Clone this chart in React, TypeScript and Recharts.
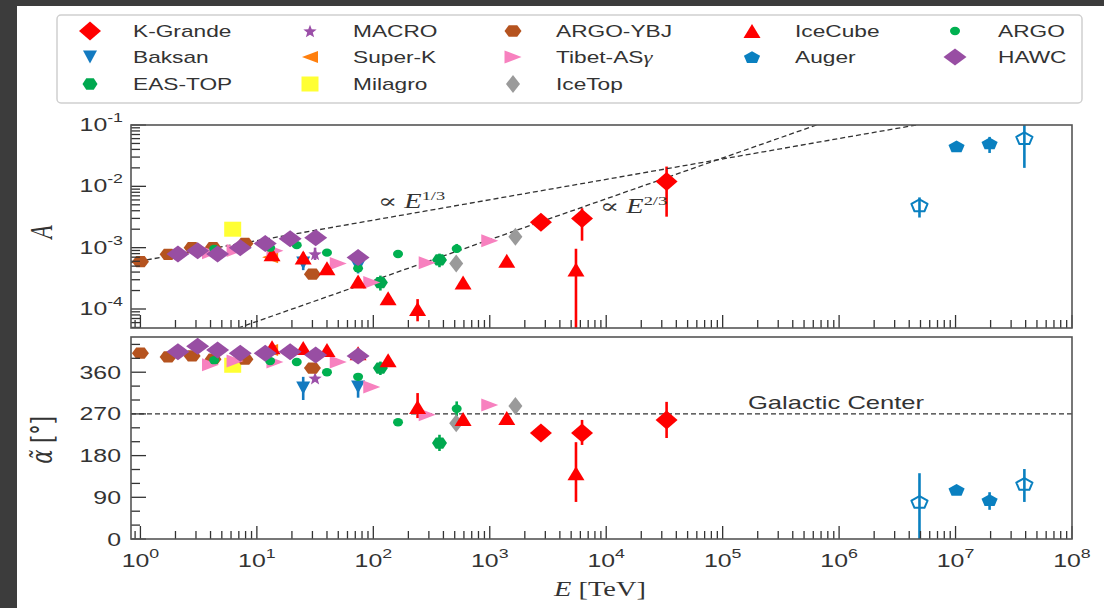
import React from "react";
import { ScatterChart, Scatter, XAxis, YAxis, ErrorBar, ReferenceLine } from "recharts";

type Bounds = [number, number] | null;

const W = 1104;
const H = 608;
const PLOT_L = 131;
const PLOT_R = 1072;
const TOP_T = 125;
const TOP_B = 328;
const BOT_T = 337;
const BOT_B = 539;

const X_MIN = 0.83;
const X_MAX = 1e8;
const A_MIN = 4.9e-5;
const A_MAX = 0.1;
const PHI_MIN = 0;
const PHI_MAX = 436;

const SX = 1.42; // the reference is stretched horizontally
const INK = "#333";
const SANS = "'Liberation Sans', Arial, sans-serif";
const SERIF = "'Liberation Serif', 'DejaVu Serif', serif";

// ---- data: energy [TeV], amplitude A, phase alpha [deg], error bounds ----
const kgE = [2750, 6200, 33000];
const kgA = [2.6e-3, 3.0e-3, 1.2e-2];
const kgAErr: Bounds[] = [[2.2e-3, 3.0e-3], [1.3e-3, 4.4e-3], [3.2e-3, 2.1e-2]];
const kgPhi = [229, 229, 257];
const kgPhiErr: Bounds[] = [null, [203, 257], [218, 296]];

const baksanE = [25, 74];
const baksanA = [5.6e-4, 4.9e-4];
const baksanAErr: Bounds[] = [[4.3e-4, 7.0e-4], [3.8e-4, 6.3e-4]];
const baksanPhi = [326, 328];
const baksanPhiErr: Bounds[] = [[300, 350], [305, 352]];

const easE = [115, 370];
const easA = [2.7e-4, 6.3e-4];
const easAErr: Bounds[] = [[2.0e-4, 3.5e-4], [4.8e-4, 8.0e-4]];
const easPhi = [369, 207];
const easPhiErr: Bounds[] = [[354, 383], [190, 225]];

const macroE = [31.6];
const macroA = [7.9e-4];
const macroAErr: Bounds[] = [[6.3e-4, 1.0e-3]];
const macroPhi = [347];

const superkE = [13];
const superkA = [7.0e-4];
const superkPhi = [408];

const milagroE = [6.2];
const milagroA = [2.0e-3];
const milagroAErr: Bounds[] = [[1.6e-3, 2.5e-3]];
const milagroPhi = [375];

const argoYbjE = [1.0, 1.73, 2.78, 4.2, 7.9, 30];
const argoYbjA = [5.9e-4, 7.8e-4, 1.0e-3, 1.0e-3, 1.17e-3, 3.7e-4];
const argoYbjPhi = [401, 393, 395, 388, 388, 369];

const tibetE = [4.0, 6.5, 14.3, 50, 97, 290, 1000];
const tibetA = [8.3e-4, 9.0e-4, 8.9e-4, 5.5e-4, 2.7e-4, 5.7e-4, 1.3e-3];
const tibetPhi = [376, 384, 382, 382, 328, 268, 289];

const icetopE = [515, 1660];
const icetopA = [5.5e-4, 1.5e-3];
const icetopPhi = [250, 287];

const icecubeE = [13.5, 25, 40, 74, 134, 240, 590, 1400, 5500];
const icecubeA = [7.8e-4, 6.9e-4, 4.6e-4, 2.8e-4, 1.5e-4, 1.0e-4, 2.7e-4, 6.1e-4, 4.4e-4];
const icecubeAErr: Bounds[] = [null, [5.6e-4, 8.4e-4], null, null, null, [6.3e-5, 1.45e-4], null, null, [4.9e-5, 9.6e-4]];
const icecubePhi = [414, 412, 408, 401, 386, 285, 259, 261, 142];
const icecubePhiErr: Bounds[] = [null, null, null, null, null, [261, 315], null, null, [80, 209]];

const augerE = [4.9e6, 1.02e7, 1.96e7, 3.9e7];
const augerA = [4.9e-3, 4.5e-2, 5.0e-2, 6.1e-2];
const augerAErr: Bounds[] = [[3.1e-3, 6.6e-3], [4.2e-2, 4.8e-2], [3.5e-2, 6.4e-2], [2.0e-2, 0.1]];
const augerPhi = [80, 106, 84, 119];
const augerPhiErr: Bounds[] = [[0, 142], [100, 112], [63, 101], [80, 151]];
const augerOpen = [true, false, false, true];

const argoE = [4.3, 13, 22, 40, 74, 163, 520];
const argoA = [9.5e-4, 1.0e-3, 1.1e-3, 8.3e-4, 4.6e-4, 7.9e-4, 9.6e-4];
const argoAErr: Bounds[] = [null, null, null, null, null, null, [8.3e-4, 1.15e-3]];
const argoPhi = [386, 384, 382, 360, 350, 252, 281];
const argoPhiErr: Bounds[] = [null, null, null, null, null, null, [265, 297]];

const hawcE = [2.1, 3.1, 4.6, 7.2, 11.8, 19.3, 32, 74];
const hawcA = [7.9e-4, 8.9e-4, 7.9e-4, 1.0e-3, 1.17e-3, 1.4e-3, 1.45e-3, 6.9e-4];
const hawcPhi = [404, 416, 408, 401, 401, 404, 397, 395];

// dashed power-law guides (end points)
const slope13E = [0.83, 4.6e6];
const slope13A = [5.7e-4, 0.1];
const slope23E = [6.9, 6.4e5];
const slope23A = [4.9e-5, 0.1];

const galacticCenter = 270;

const phiMajor = [0, 90, 180, 270, 360];
const phiTicks = [0, 30, 60, 90, 120, 150, 180, 210, 240, 270, 300, 330, 360, 390, 420];

// ---- helpers ----
type Row = { E: number; A: number; phi: number; aErr: [number, number]; pErr: [number, number]; open: boolean };

function errOf(v: number, b: Bounds | undefined): [number, number] {
  if (!b) return [0, 0];
  return [v - b[0], b[1] - v];
}

function rows(E: number[], A: number[], phi: number[], aB?: Bounds[], pB?: Bounds[], open?: boolean[]): Row[] {
  return E.map((e, i) => ({
    E: e,
    A: A[i],
    phi: phi[i],
    aErr: errOf(A[i], aB?.[i]),
    pErr: errOf(phi[i], pB?.[i]),
    open: open ? open[i] : false,
  }));
}

function logTicks(lo: number, hi: number): number[] {
  const out: number[] = [];
  for (let d = Math.floor(Math.log10(lo)); d <= Math.ceil(Math.log10(hi)); d++) {
    for (let m = 1; m <= 9; m++) {
      const v = Number((m * Math.pow(10, d)).toPrecision(6));
      if (v >= lo && v <= hi) out.push(v);
    }
  }
  return out;
}

const isDecade = (v: number) => Math.abs(Math.log10(v) - Math.round(Math.log10(v))) < 1e-6;

type Kind = "diamond" | "triUp" | "triDown" | "triLeft" | "triRight" | "hexagon" | "star" | "square" | "circle" | "pentagon";

type Series = { name: string; kind: Kind; color: string; rx: number; ry: number; data: Row[]; errA: boolean; errP: boolean };

const series: Series[] = [
  { name: "K-Grande", kind: "diamond", color: "#ff0000", rx: 11, ry: 9.5, data: rows(kgE, kgA, kgPhi, kgAErr, kgPhiErr), errA: true, errP: true },
  { name: "Baksan", kind: "triDown", color: "#137ac0", rx: 7, ry: 6.5, data: rows(baksanE, baksanA, baksanPhi, baksanAErr, baksanPhiErr), errA: true, errP: true },
  { name: "EAS-TOP", kind: "hexagon", color: "#00a84f", rx: 7.5, ry: 6.5, data: rows(easE, easA, easPhi, easAErr, easPhiErr), errA: true, errP: true },
  { name: "MACRO", kind: "star", color: "#9b4fa8", rx: 7, ry: 7, data: rows(macroE, macroA, macroPhi, macroAErr), errA: true, errP: false },
  { name: "Super-K", kind: "triLeft", color: "#ff7f0e", rx: 8, ry: 6, data: rows(superkE, superkA, superkPhi), errA: false, errP: false },
  { name: "Milagro", kind: "square", color: "#ffff33", rx: 8.5, ry: 7.5, data: rows(milagroE, milagroA, milagroPhi, milagroAErr), errA: true, errP: false },
  { name: "ARGO-YBJ", kind: "hexagon", color: "#b5531f", rx: 8.5, ry: 6.5, data: rows(argoYbjE, argoYbjA, argoYbjPhi), errA: false, errP: false },
  { name: "Tibet-AS\u03b3", kind: "triRight", color: "#f781bf", rx: 8.5, ry: 6.5, data: rows(tibetE, tibetA, tibetPhi), errA: false, errP: false },
  { name: "IceTop", kind: "diamond", color: "#9a9a9a", rx: 7, ry: 9, data: rows(icetopE, icetopA, icetopPhi), errA: false, errP: false },
  { name: "IceCube", kind: "triUp", color: "#ff0000", rx: 8.5, ry: 7, data: rows(icecubeE, icecubeA, icecubePhi, icecubeAErr, icecubePhiErr), errA: true, errP: true },
  { name: "Auger", kind: "pentagon", color: "#0a80c0", rx: 8.5, ry: 6.5, data: rows(augerE, augerA, augerPhi, augerAErr, augerPhiErr, augerOpen), errA: true, errP: true },
  { name: "ARGO", kind: "circle", color: "#00b050", rx: 5, ry: 4.2, data: rows(argoE, argoA, argoPhi, argoAErr, argoPhiErr), errA: true, errP: true },
  { name: "HAWC", kind: "diamond", color: "#984ea3", rx: 11.5, ry: 8.5, data: rows(hawcE, hawcA, hawcPhi), errA: false, errP: false },
];

const legendCols = [
  ["K-Grande", "Baksan", "EAS-TOP"],
  ["MACRO", "Super-K", "Milagro"],
  ["ARGO-YBJ", "Tibet-AS\u03b3", "IceTop"],
  ["IceCube", "Auger"],
  ["ARGO", "HAWC"],
];

function poly(pts: [number, number][]) {
  return pts.map((p) => `${p[0].toFixed(2)},${p[1].toFixed(2)}`).join(" ");
}

function Marker({ kind, cx, cy, rx, ry, color, open }: { kind: Kind; cx: number; cy: number; rx: number; ry: number; color: string; open?: boolean }) {
  const fill = open ? "none" : color;
  const stroke = open ? color : "none";
  const sw = open ? 2 : 0;
  if (kind === "circle") return <ellipse cx={cx} cy={cy} rx={rx} ry={ry} fill={fill} stroke={stroke} strokeWidth={sw} />;
  let pts: [number, number][] = [];
  if (kind === "diamond") pts = [[cx, cy - ry], [cx + rx, cy], [cx, cy + ry], [cx - rx, cy]];
  else if (kind === "square") pts = [[cx - rx, cy - ry], [cx + rx, cy - ry], [cx + rx, cy + ry], [cx - rx, cy + ry]];
  else if (kind === "triUp") pts = [[cx, cy - ry], [cx + rx, cy + ry], [cx - rx, cy + ry]];
  else if (kind === "triDown") pts = [[cx, cy + ry], [cx + rx, cy - ry], [cx - rx, cy - ry]];
  else if (kind === "triLeft") pts = [[cx - rx, cy], [cx + rx, cy - ry], [cx + rx, cy + ry]];
  else if (kind === "triRight") pts = [[cx + rx, cy], [cx - rx, cy - ry], [cx - rx, cy + ry]];
  else if (kind === "hexagon") {
    for (let k = 0; k < 6; k++) {
      const a = (Math.PI / 3) * k;
      pts.push([cx + rx * Math.cos(a), cy - ry * Math.sin(a)]);
    }
  } else if (kind === "pentagon") {
    for (let k = 0; k < 5; k++) {
      const a = Math.PI / 2 + ((2 * Math.PI) / 5) * k;
      pts.push([cx + rx * Math.cos(a), cy - ry * Math.sin(a) + ry * 0.1]);
    }
  } else if (kind === "star") {
    for (let k = 0; k < 10; k++) {
      const a = Math.PI / 2 + (Math.PI / 5) * k;
      const f = k % 2 === 0 ? 1 : 0.42;
      pts.push([cx + rx * f * Math.cos(a), cy - ry * f * Math.sin(a) + ry * 0.1]);
    }
  }
  return <polygon points={poly(pts)} fill={fill} stroke={stroke} strokeWidth={sw} strokeLinejoin="round" />;
}

// stretched text helper
function T({ x, y, size, children, anchor = "start", family = SANS, fill = INK }: { x: number; y: number; size: number; children: React.ReactNode; anchor?: "start" | "middle" | "end"; family?: string; fill?: string }) {
  return (
    <g transform={`translate(${x},${y}) scale(${SX},1)`}>
      <text x={0} y={0} fontSize={size} fontFamily={family} fill={fill} textAnchor={anchor}>
        {children}
      </text>
    </g>
  );
}

const xTicks = logTicks(0.9, X_MAX);
const aTicks = logTicks(A_MIN, A_MAX);

function xTick(p: any, axisY: number, labels: boolean) {
  const v = p.payload.value as number;
  const major = isDecade(v);
  const len = major ? 13 : 8;
  return (
    <g>
      <line x1={p.x} x2={p.x} y1={axisY} y2={axisY - len} stroke={INK} strokeWidth={1.3} />
      {labels && major && (
        <T x={p.x} y={axisY + 28} size={17.5} anchor="middle">
          10<tspan dy={-9} fontSize={12.5}>{Math.round(Math.log10(v))}</tspan>
        </T>
      )}
    </g>
  );
}

function aTick(p: any) {
  const v = p.payload.value as number;
  const major = isDecade(v);
  const len = major ? 15 : 9;
  return (
    <g>
      <line x1={PLOT_L} x2={PLOT_L + len} y1={p.y} y2={p.y} stroke={INK} strokeWidth={1.3} />
      {major && (
        <T x={PLOT_L - 8} y={p.y + 6} size={17.5} anchor="end">
          10<tspan dy={-9} fontSize={12.5}>{Math.round(Math.log10(v))}</tspan>
        </T>
      )}
    </g>
  );
}

function phiTick(p: any) {
  const v = p.payload.value as number;
  const major = phiMajor.includes(v);
  const len = major ? 15 : 9;
  return (
    <g>
      <line x1={PLOT_L} x2={PLOT_L + len} y1={p.y} y2={p.y} stroke={INK} strokeWidth={1.3} />
      {major && (
        <T x={PLOT_L - 10} y={p.y + 6.5} size={17.5} anchor="end">
          {v}
        </T>
      )}
    </g>
  );
}

const dash = { stroke: "#333", strokeWidth: 1.3, strokeDasharray: "5 3" };

function guide(E: number[], A: number[]) {
  return E.map((e, i) => ({ E: e, A: A[i] }));
}

// axes need a non-zero box to be drawn, so they get 1px and the margin gives the rest
const AX = 1;

function TopPanel() {
  return (
    <ScatterChart width={W} height={H} margin={{ top: TOP_T, right: W - PLOT_R, bottom: H - TOP_B - AX, left: PLOT_L - AX }}>
      <XAxis type="number" dataKey="E" scale="log" domain={[X_MIN, X_MAX]} allowDataOverflow ticks={xTicks} interval={0}
        height={AX} axisLine={false} tickLine={false} tickSize={0} tickMargin={0} tick={(p: any) => xTick(p, TOP_B, false)} />
      <YAxis type="number" dataKey="A" scale="log" domain={[A_MIN, A_MAX]} allowDataOverflow ticks={aTicks} interval={0}
        width={AX} axisLine={false} tickLine={false} tickSize={0} tickMargin={0} tick={(p: any) => aTick(p)} />
      <Scatter name="E13" data={guide(slope13E, slope13A)} line={dash} shape={() => <g />} isAnimationActive={false} />
      <Scatter name="E23" data={guide(slope23E, slope23A)} line={dash} shape={() => <g />} isAnimationActive={false} />
      {series.map((s) => (
        <Scatter key={s.name} name={s.name} data={s.data} isAnimationActive={false}
          shape={(p: any) => <Marker kind={s.kind} cx={p.cx} cy={p.cy} rx={s.rx} ry={s.ry} color={s.color} open={p.payload?.open} />}>
          {s.errA && <ErrorBar dataKey="aErr" direction="y" width={0} strokeWidth={2.6} stroke={s.color} />}
        </Scatter>
      ))}
    </ScatterChart>
  );
}

function BottomPanel() {
  return (
    <ScatterChart width={W} height={H} margin={{ top: BOT_T, right: W - PLOT_R, bottom: H - BOT_B - AX, left: PLOT_L - AX }}>
      <XAxis type="number" dataKey="E" scale="log" domain={[X_MIN, X_MAX]} allowDataOverflow ticks={xTicks} interval={0}
        height={AX} axisLine={false} tickLine={false} tickSize={0} tickMargin={0} tick={(p: any) => xTick(p, BOT_B, true)} />
      <YAxis type="number" dataKey="phi" domain={[PHI_MIN, PHI_MAX]} allowDataOverflow ticks={phiTicks} interval={0}
        width={AX} axisLine={false} tickLine={false} tickSize={0} tickMargin={0} tick={(p: any) => phiTick(p)} />
      <ReferenceLine y={galacticCenter} {...dash} />
      {series.map((s) => (
        <Scatter key={s.name} name={s.name} data={s.data} isAnimationActive={false}
          shape={(p: any) => <Marker kind={s.kind} cx={p.cx} cy={p.cy} rx={s.rx} ry={s.ry} color={s.color} open={p.payload?.open} />}>
          {s.errP && <ErrorBar dataKey="pErr" direction="y" width={0} strokeWidth={2.6} stroke={s.color} />}
        </Scatter>
      ))}
    </ScatterChart>
  );
}

function Overlay() {
  const markerX = [90, 310, 513, 752, 955];
  const rowY = [31, 57, 84];
  const byName = (n: string) => series.find((s) => s.name === n)!;
  return (
    <svg width={W} height={H} style={{ position: "absolute", left: 0, top: 0, pointerEvents: "none" }}>
      {/* legend */}
      <rect x={57} y={15} width={1025} height={88} rx={4} fill="#fff" stroke="#cfcfcf" strokeWidth={1.5} />
      {legendCols.map((col, ci) =>
        col.map((n, ri) => {
          const s = byName(n);
          return (
            <g key={n}>
              <Marker kind={s.kind} cx={markerX[ci]} cy={rowY[ri]} rx={s.rx} ry={s.ry} color={s.color} />
              <T x={markerX[ci] + 43} y={rowY[ri] + 6} size={16}>
                {n === "Tibet-AS\u03b3" ? (
                  <>
                    Tibet-AS<tspan fontFamily={SERIF} fontStyle="italic">{"\u03b3"}</tspan>
                  </>
                ) : (
                  n
                )}
              </T>
            </g>
          );
        })
      )}
      {/* panel frames */}
      <rect x={PLOT_L} y={TOP_T} width={PLOT_R - PLOT_L} height={TOP_B - TOP_T} fill="none" stroke="#555" strokeWidth={1.6} />
      <rect x={PLOT_L} y={BOT_T} width={PLOT_R - PLOT_L} height={BOT_B - BOT_T} fill="none" stroke="#555" strokeWidth={1.6} />
      {/* annotations */}
      <T x={378} y={208} size={20} family={SERIF}>
        {"\u221d "}
        <tspan fontStyle="italic">E</tspan>
        <tspan dy={-8} fontSize={13}>1/3</tspan>
      </T>
      <T x={600} y={213} size={20} family={SERIF}>
        {"\u221d "}
        <tspan fontStyle="italic">E</tspan>
        <tspan dy={-8} fontSize={13}>2/3</tspan>
      </T>
      <T x={748} y={409} size={18}>Galactic Center</T>
      {/* axis titles */}
      <g transform="translate(52,232) rotate(-90) scale(1,1.42)">
        <text textAnchor="middle" fontSize={22} fontFamily={SERIF} fontStyle="italic" fill={INK}>A</text>
      </g>
      <g transform="translate(52,440) rotate(-90) scale(1,1.42)">
        <text textAnchor="middle" fontSize={21} fontFamily="'DejaVu Serif', serif" fill={INK}>
          <tspan fontStyle="italic">{"\u03b1\u0303"}</tspan>
          <tspan>{" [\u00b0]"}</tspan>
        </text>
      </g>
      <T x={600} y={596} size={20} anchor="middle" family={SERIF}>
        <tspan fontStyle="italic">E</tspan> [TeV]
      </T>
    </svg>
  );
}

export default function App() {
  return (
    <div style={{ position: "absolute", left: 0, top: 0, width: W, height: H, background: "#fff", overflow: "hidden" }}>
      <div style={{ position: "absolute", left: 0, top: 0, width: W, height: 6, background: "#3c3c3c" }} />
      <div style={{ position: "absolute", left: 0, top: 0, width: 17, height: H, background: "#3c3c3c" }} />
      <div style={{ position: "absolute", left: 0, top: 0 }}>
        <TopPanel />
      </div>
      <div style={{ position: "absolute", left: 0, top: 0 }}>
        <BottomPanel />
      </div>
      <Overlay />
    </div>
  );
}
